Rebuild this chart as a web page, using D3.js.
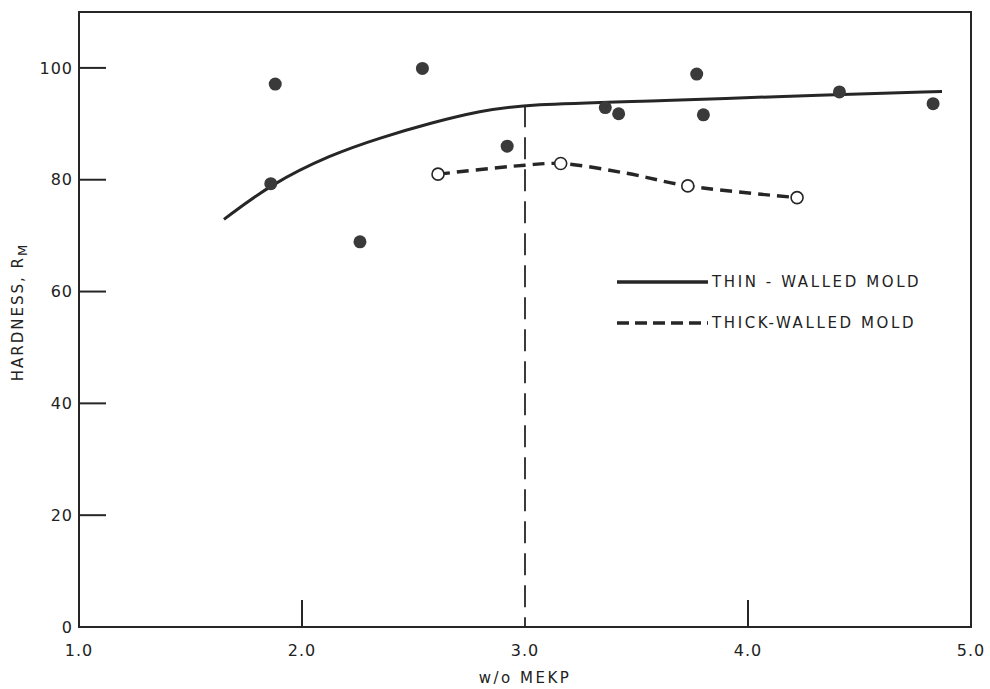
<!DOCTYPE html>
<html>
<head>
<meta charset="utf-8">
<script src="https://cdn.jsdelivr.net/npm/d3@7"></script>
<style>
  body { margin: 0; background: #fff; }
  text { font-family: "DejaVu Sans", sans-serif; fill: #222; }
</style>
</head>
<body>
<div id="chart"></div>
<script>
// data
var thinPoints = [
    [1.88, 97.1], [1.86, 79.3], [2.26, 68.9], [2.54, 99.9], [2.92, 86.0],
    [3.36, 92.9], [3.42, 91.8], [3.77, 98.9], [3.80, 91.6], [4.41, 95.7], [4.83, 93.6]
];
var thickPoints = [[2.61, 81.0], [3.16, 82.9], [3.73, 78.9], [4.22, 76.8]];
var thinCurve = [[1.65, 72.9], [1.86, 79.2], [2.13, 84.5], [2.35, 87.5], [2.58, 90.2], [2.8, 92.3], [3.0, 93.5], [3.6, 94.1], [4.36, 95.2], [4.87, 95.8]];
var thickCurve = [[2.61, 81.0], [3.0, 82.6], [3.16, 82.9], [3.45, 81.2], [3.73, 78.9], [4.22, 76.8]];
var xTicks = [1, 2, 3, 4, 5];
var xTickLabels = ['1.0', '2.0', '3.0', '4.0', '5.0'];
var yTicks = [0, 20, 40, 60, 80, 100];
var markerX = 3.0;
var legendItems = ['THIN - WALLED MOLD', 'THICK-WALLED MOLD'];

var chart_width = 990;
var chart_height = 689;
var margin = {left: 79, right: 19, top: 12, bottom: 62};

var svg = d3.select('#chart')
    .append('svg')
    .attr('width', chart_width)
    .attr('height', chart_height);

var x = d3.scaleLinear().domain([1, 5]).range([margin.left, chart_width - margin.right]);
var y = d3.scaleLinear().domain([0, 110]).range([chart_height - margin.bottom, margin.top]);

var ink = '#262626';

// frame
svg.append('rect')
    .attr('x', x(1)).attr('y', y(110))
    .attr('width', x(5) - x(1)).attr('height', y(0) - y(110))
    .attr('fill', 'none').attr('stroke', ink).attr('stroke-width', 2);

// y ticks (inside)
svg.selectAll('.ytick').data(yTicks.slice(1)).enter()
    .append('line')
    .attr('x1', x(1)).attr('x2', x(1) + 27)
    .attr('y1', function(d) { return y(d); }).attr('y2', function(d) { return y(d); })
    .attr('stroke', ink).attr('stroke-width', 2);

svg.selectAll('.ylab').data(yTicks).enter()
    .append('text')
    .attr('x', x(1) - 6)
    .attr('y', function(d) { return y(d); })
    .attr('dy', '0.36em')
    .attr('text-anchor', 'end')
    .attr('font-size', 16)
    .attr('letter-spacing', 1)
    .text(function(d) { return d; });

// x ticks at 2 and 4 (3 is the dashed marker)
svg.selectAll('.xtick').data([2, 4]).enter()
    .append('line')
    .attr('x1', function(d) { return x(d); }).attr('x2', function(d) { return x(d); })
    .attr('y1', y(0)).attr('y2', y(0) - 27)
    .attr('stroke', ink).attr('stroke-width', 2);

svg.selectAll('.xlab').data(xTicks).enter()
    .append('text')
    .attr('x', function(d) { return x(d); })
    .attr('y', y(0) + 29)
    .attr('text-anchor', 'middle')
    .attr('font-size', 16)
    .attr('letter-spacing', 1)
    .text(function(d, i) { return xTickLabels[i]; });

// axis titles
svg.append('text')
    .attr('x', x(3)).attr('y', chart_height - 6)
    .attr('text-anchor', 'middle')
    .attr('font-size', 15)
    .attr('letter-spacing', 2.5)
    .text('w/o MEKP');

var ytitle = svg.append('text')
    .attr('transform', 'translate(23,312) rotate(-90)')
    .attr('text-anchor', 'middle')
    .attr('font-size', 15)
    .attr('letter-spacing', 2);
ytitle.append('tspan').text('HARDNESS, R');
ytitle.append('tspan').attr('dy', 4).attr('font-size', 13).text('M');

// vertical dashed marker at 3.0
svg.append('line')
    .attr('x1', x(markerX)).attr('x2', x(markerX))
    .attr('y1', y(93.3)).attr('y2', y(0))
    .attr('stroke', ink).attr('stroke-width', 1.8)
    .attr('stroke-dasharray', '22,10');

var line = d3.line()
    .x(function(d) { return x(d[0]); })
    .y(function(d) { return y(d[1]); });

svg.append('path')
    .attr('d', line.curve(d3.curveBasis)(thinCurve))
    .attr('fill', 'none').attr('stroke', ink).attr('stroke-width', 3);

svg.append('path')
    .attr('d', line.curve(d3.curveCatmullRom)(thickCurve))
    .attr('fill', 'none').attr('stroke', ink).attr('stroke-width', 3.4)
    .attr('stroke-dasharray', '12,7');

// points
svg.selectAll('.thin').data(thinPoints).enter()
    .append('circle')
    .attr('cx', function(d) { return x(d[0]); })
    .attr('cy', function(d) { return y(d[1]); })
    .attr('r', 6.5)
    .attr('fill', '#3a3a3a');

svg.selectAll('.thick').data(thickPoints).enter()
    .append('circle')
    .attr('cx', function(d) { return x(d[0]); })
    .attr('cy', function(d) { return y(d[1]); })
    .attr('r', 6)
    .attr('fill', '#fff')
    .attr('stroke', ink).attr('stroke-width', 1.6);

// legend
var legend = svg.selectAll('.legend').data(legendItems).enter()
    .append('g')
    .attr('transform', function(d, i) { return 'translate(617,' + (282 + i * 41) + ')'; });

legend.append('line')
    .attr('x1', 0).attr('x2', 91)
    .attr('stroke', ink).attr('stroke-width', 3.4)
    .attr('stroke-dasharray', function(d, i) { return i ? '12,6' : null; });

legend.append('text')
    .attr('x', 95).attr('dy', '0.36em')
    .attr('font-size', 15)
    .attr('letter-spacing', 2.6)
    .text(function(d) { return d; });
</script>
</body>
</html>
